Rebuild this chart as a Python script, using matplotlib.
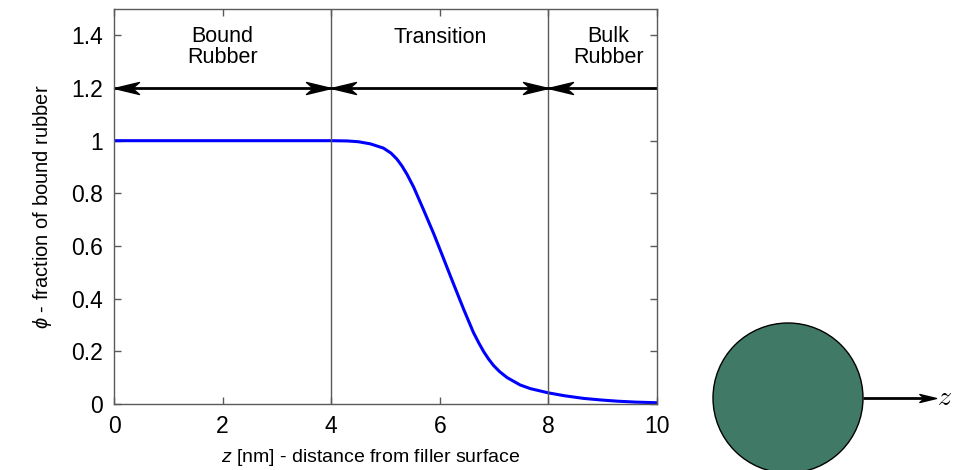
import matplotlib
matplotlib.use("Agg")
from matplotlib import pyplot as plt
from matplotlib.patches import Circle
from matplotlib.path import Path
from matplotlib.ticker import FuncFormatter

plt.rcParams['font.family'] = ['Liberation Sans', 'DejaVu Sans']
plt.rcParams['mathtext.fontset'] = 'custom'
plt.rcParams['mathtext.it'] = 'Liberation Sans:italic'
plt.rcParams['mathtext.rm'] = 'Liberation Sans'

# curve
z_nm = [0, 4.0, 4.3, 4.5, 4.72, 4.96, 5.1, 5.21, 5.3, 5.40, 5.52, 5.70, 5.89, 6.04, 6.16,
        6.25, 6.44, 6.54, 6.62, 6.72, 6.81, 6.9, 6.99, 7.1, 7.24, 7.48, 7.67, 8.0, 8.3,
        8.65, 9.0, 9.27, 9.6, 10.0]
phi = [1.0, 1.0, 0.999, 0.996, 0.988, 0.972, 0.953, 0.930, 0.905, 0.871, 0.823, 0.738,
       0.646, 0.568, 0.505, 0.458, 0.36, 0.311, 0.272, 0.232, 0.199, 0.171, 0.147, 0.124,
       0.101, 0.073, 0.059, 0.043, 0.032, 0.022, 0.0155, 0.0115, 0.008, 0.0055]

# regions
bounds = [0, 4, 8, 10]
region_names = ['Bound\nRubber', 'Transition', 'Bulk\nRubber']
region_x = [2, 6, 9.1]
region_y = [1.355, 1.39, 1.355]

xticks = [0, 2, 4, 6, 8, 10]
yticks = [0, 0.2, 0.4, 0.6, 0.8, 1, 1.2, 1.4]

# gnuplot-like arrow head, tip at the origin
head_r = Path([(0, 0), (-1, 0.24), (-0.72, 0), (-1, -0.24), (0, 0)],
              [Path.MOVETO, Path.LINETO, Path.LINETO, Path.LINETO, Path.CLOSEPOLY])
head_l = Path([(0, 0), (1, 0.24), (0.72, 0), (1, -0.24), (0, 0)],
              [Path.MOVETO, Path.LINETO, Path.LINETO, Path.LINETO, Path.CLOSEPOLY])

fig = plt.figure(figsize=(9.59, 4.70), dpi=100)
ax = fig.add_axes([0.119, 0.140, 0.566, 0.841])

grey = '#5a5a5a'
ax.plot(z_nm, phi, color='#0000ff', lw=2.2)
for b in bounds[1:-1]:
    ax.axvline(b, color=grey, lw=1)

# arrows at phi = 1.2
for i in range(3):
    ax.plot([bounds[i], bounds[i + 1]], [1.2, 1.2], color='black', lw=2, clip_on=False,
            solid_capstyle='butt')
    ax.plot(bounds[i], 1.2, marker=head_l, ms=36, color='black', ls='none', clip_on=False)
    if i < 2:
        ax.plot(bounds[i + 1], 1.2, marker=head_r, ms=36, color='black', ls='none')
    ax.text(region_x[i], region_y[i], region_names[i], ha='center', va='center',
            fontsize=15.5, linespacing=1.0)

ax.set_xlim(0, 10)
ax.set_ylim(0, 1.5)
ax.set_xticks(xticks)
ax.set_yticks(yticks)
ax.yaxis.set_major_formatter(FuncFormatter(lambda v, p: '%g' % v))
ax.tick_params(direction='in', length=5, width=1, color=grey, top=True, right=True,
               labelsize=16.5, pad=8)
for s in ax.spines.values():
    s.set_color(grey)
    s.set_linewidth(1)
ax.set_xlabel('$z$ [nm] - distance from filler surface', fontsize=14, labelpad=6)
ax.xaxis.label.set_x(0.473)
ax.set_ylabel(r'$\phi$ - fraction of bound rubber', fontsize=14.5, labelpad=12)

# filler particle sketch, in pixel coordinates
ax2 = fig.add_axes([0, 0, 1, 1])
ax2.set_xlim(0, 959)
ax2.set_ylim(0, 470)
ax2.axis('off')
ax2.add_patch(Circle((788, 72), 75, facecolor='#407a66', edgecolor='black', lw=1))
ax2.plot([863, 930], [72, 72], color='black', lw=2, solid_capstyle='butt')
ax2.plot(936, 72, marker=head_r, ms=24, color='black', ls='none')
ax2.text(937, 72, '$z$', fontsize=20, ha='left', va='center', math_fontfamily='cm')

fig.savefig('out.png', dpi=100)
